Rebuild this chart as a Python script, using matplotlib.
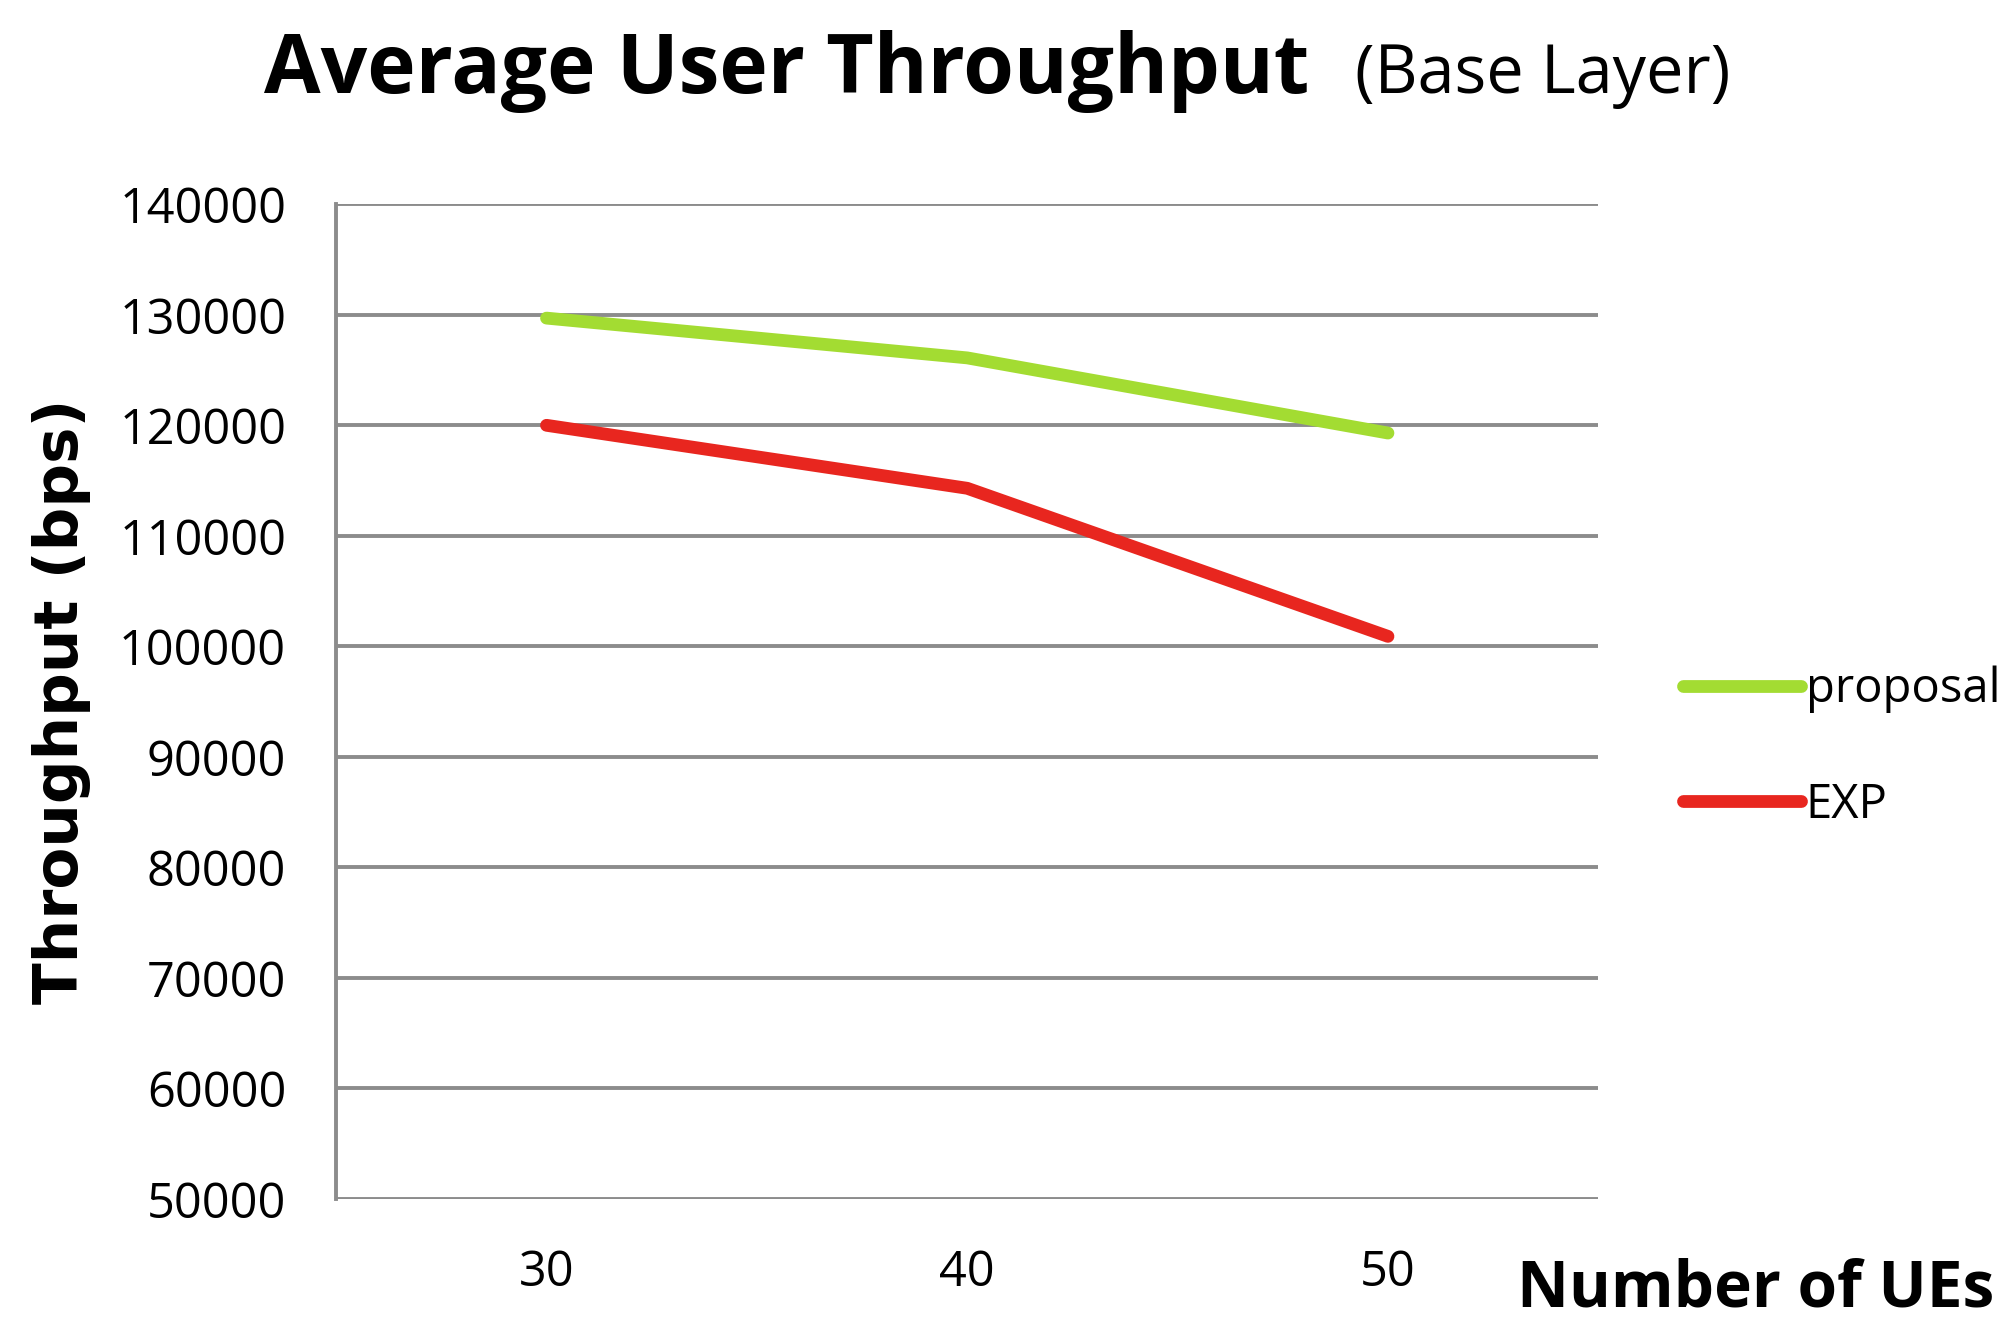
import matplotlib
matplotlib.use('Agg')
import matplotlib.pyplot as plt

# data
ues = ['30', '40', '50']
proposal = [129700, 126100, 119300]
exp = [120000, 114300, 100900]
yticks = [50000, 60000, 70000, 80000, 90000, 100000, 110000, 120000, 130000, 140000]

plt.rcParams['font.family'] = ['Open Sans', 'DejaVu Sans']

fig = plt.figure(figsize=(10.065, 6.72), dpi=200)
ax = fig.add_axes([0.167, 0.108, 0.627, 0.74])

x = range(len(ues))
ax.plot(x, proposal, color='#a3dc32', lw=4.6, solid_capstyle='round', label='proposal', zorder=3)
ax.plot(x, exp, color='#e8261f', lw=4.6, solid_capstyle='round', label='EXP', zorder=3)

ax.set_xlim(-0.5, 2.5)
ax.set_ylim(50000, 140000)
ax.set_yticks(yticks)
ax.set_yticklabels([str(v) for v in yticks])
ax.set_xticks(list(x))
ax.set_xticklabels(ues)
ax.tick_params(length=0, labelsize=17.5, pad=18)
ax.tick_params(axis='x', pad=18)
ax.yaxis.grid(True, color='#8c8c8c', lw=1.4)
ax.set_axisbelow(True)
for s in ['top', 'right', 'bottom']:
    ax.spines[s].set_visible(False)
ax.spines['left'].set_color('#8c8c8c')
ax.spines['left'].set_linewidth(1.4)

ax.set_ylabel('Throughput (bps)', family='DejaVu Sans', fontweight='bold', fontsize=22, labelpad=10)

fig.text(0.131, 0.947, 'Average User Throughput', fontsize=29.5, fontweight='bold', ha='left', va='center')
fig.text(0.673, 0.944, '(Base Layer)', fontsize=24, ha='left', va='center')
fig.text(0.872, 0.04, 'Number of UEs', fontsize=23, fontweight='bold', ha='center', va='center')

fig.legend(loc='center left', bbox_to_anchor=(0.836, 0.444), frameon=False, fontsize=17,
           borderpad=0, borderaxespad=0, handlelength=2.5, handletextpad=0.1, labelspacing=1.45)

fig.savefig('out.png', dpi=200, facecolor='white')
